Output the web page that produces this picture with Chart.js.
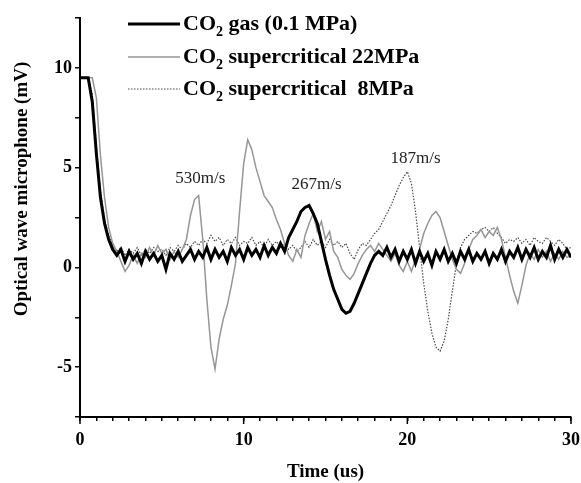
<!DOCTYPE html>
<html>
<head>
<meta charset="utf-8">
<script src="https://cdn.jsdelivr.net/npm/chart.js@4.4.0/dist/chart.umd.min.js"></script>
<style>
  body { margin: 0; background: #fff; }
  #wrap { width: 581px; height: 483px; }
</style>
</head>
<body>
<div id="wrap"><canvas id="owmChart" width="581" height="483"></canvas></div>
<script>
// sampling grid, us
var timeStep = 0.25;
var timeUs = [];
for (var i = 0; i <= 120; i++) timeUs.push(i * timeStep);

var seriesLabels = ['CO₂ gas (0.1 MPa)', 'CO₂ supercritical 22MPa', 'CO₂ supercritical  8MPa'];

// CO2 gas 0.1 MPa (mV)
var gasValues = [
  9.5, 9.5, 9.5, 8.3, 5.7, 3.5, 2.2, 1.4,
  0.9, 0.6, 0.9, 0.3, 0.8, 0.4, 0.7, 0.2,
  0.8, 0.4, 0.7, 0.3, 0.6, -0.1, 0.7, 0.4,
  0.8, 0.3, 0.6, 0.9, 0.4, 0.8, 0.5, 1.0,
  0.4, 0.9, 0.5, 0.8, 0.3, 1.0, 0.6, 0.9,
  0.4, 1.0, 0.6, 0.9, 0.5, 1.1, 0.6, 1.0,
  0.7, 1.2, 0.8, 1.5, 1.9, 2.3, 2.8, 3.0,
  3.1, 2.7, 2.2, 1.3, 0.4, -0.4, -1.1, -1.6,
  -2.1, -2.3, -2.2, -1.8, -1.3, -0.8, -0.3, 0.2,
  0.6, 0.8, 0.6, 1.0, 0.5, 0.9, 0.3, 0.8,
  0.4, 0.9, 0.2, 0.8, 0.3, 0.7, 0.1, 0.8,
  0.4, 0.9, 0.3, 0.7, 0.2, 0.8, 0.4, 0.9,
  0.3, 0.7, 0.4, 0.8, 0.2, 0.7, 0.4, 0.9,
  0.3, 0.8, 0.5, 1.0, 0.4, 0.9, 0.5, 1.0,
  0.4, 0.8, 0.5, 1.1, 0.4, 0.9, 0.5, 0.9,
  0.5
];

// CO2 supercritical 22 MPa (mV)
var sc22Values = [
  9.5, 9.5, 9.5, 9.5, 8.5, 5.6, 3.5, 2.0,
  1.2, 0.8, 0.3, -0.2, 0.1, 0.6, 0.2, 0.7,
  0.5, 1.0, 0.6, 1.1, 0.7, 0.9, 0.4, 0.8,
  0.5, 0.9, 1.4, 2.6, 3.4, 3.6, 1.4, -1.6,
  -4.0, -5.1, -3.6, -2.6, -1.9, -0.9, 0.2, 2.8,
  5.2, 6.4, 5.9, 5.0, 4.3, 3.6, 3.3, 3.0,
  2.4, 1.9, 1.2, 0.6, 0.3, 0.9, 0.5, 1.6,
  2.2, 2.7, 1.8, 2.3, 1.4, 1.8, 0.8, 0.5,
  -0.1, -0.4, -0.6, -0.3, 0.2, 0.6, 0.9, 1.1,
  0.8, 1.2, 0.9, 0.6, 0.3, 0.7, 0.1, -0.2,
  0.3, -0.2, 0.4, 0.9, 1.7, 2.2, 2.6, 2.8,
  2.5, 1.8, 1.1, 0.4, -0.1, -0.3, 0.2, 0.9,
  1.4, 1.6, 1.9, 1.5, 1.8, 1.6, 2.0, 1.4,
  0.5, -0.4, -1.2, -1.8, -0.9, 0.1, 0.7, 0.4,
  0.9, 0.5, 0.8, 0.3, 0.7, 0.4, 0.8, 0.5,
  0.6
];

// CO2 supercritical 8 MPa (mV)
var sc8Values = [
  9.5, 9.5, 9.5, 8.7, 6.1, 3.9, 2.4, 1.6,
  1.1, 0.8, 1.0, 0.6, 0.9, 0.7, 1.0, 0.6,
  0.9, 0.7, 1.0, 0.8, 0.9, 0.6, 1.0, 0.8,
  1.1, 0.9, 1.2, 1.0, 1.3, 1.1, 1.4, 1.2,
  1.6, 1.3, 1.5, 1.1, 1.4, 1.2, 1.5, 1.1,
  1.3, 1.2, 1.5, 1.1, 1.3, 1.0, 1.4, 1.1,
  1.3, 1.0, 1.2, 0.9, 1.1, 0.8, 1.0, 1.3,
  1.0, 1.4, 1.1, 1.3, 1.0, 1.4, 1.1, 1.3,
  1.0, 1.2, 0.7, 0.4, 0.9, 1.2, 1.1, 1.4,
  1.7, 1.9, 2.3, 2.7, 3.1, 3.6, 4.1, 4.5,
  4.8, 4.2, 2.8, 1.0, -0.8, -2.2, -3.3, -4.0,
  -4.2, -3.7, -2.6, -1.2, 0.2, 1.0, 1.4, 1.6,
  1.8, 1.7, 1.9, 2.0, 1.8, 2.0, 1.7, 1.5,
  1.2, 1.4, 1.3, 1.5, 1.2, 1.4, 1.1, 1.5,
  1.3, 1.2, 1.5, 1.3, 1.1, 1.4, 1.2, 0.9,
  1.0
];

// speed notes
var noteTexts = ['530m/s', '267m/s', '187m/s'];
var noteX = [7.35, 14.45, 20.5];
var noteY = [4.45, 4.15, 5.45];

var xTitle = 'Time (us)';
var yTitle = 'Optical wave microphone (mV)';
var serif = '"Liberation Serif", "Times New Roman", serif';

function pts(vals) {
  return vals.map(function (v, i) { return { x: timeUs[i], y: v }; });
}

var lineStyles = [
  { color: '#000000', width: 3, dash: [] },
  { color: '#969696', width: 1.5, dash: [] },
  { color: '#4a4a4a', width: 1.2, dash: [1.5, 1.5] }
];

var overlay = {
  id: 'overlay',
  afterDraw: function (chart) {
    var ctx = chart.ctx;
    var x = chart.scales.x, y = chart.scales.y;
    ctx.save();

    // longer major ticks on time axis
    ctx.strokeStyle = '#000';
    ctx.lineWidth = 1.5;
    [0, 10, 20, 30].forEach(function (v) {
      var px = x.getPixelForValue(v);
      ctx.beginPath();
      ctx.moveTo(px, x.top);
      ctx.lineTo(px, x.top + 7);
      ctx.stroke();
    });

    // notes
    ctx.fillStyle = '#222';
    ctx.font = '17px ' + serif;
    ctx.textAlign = 'center';
    ctx.textBaseline = 'middle';
    noteTexts.forEach(function (t, i) {
      ctx.fillText(t, x.getPixelForValue(noteX[i]), y.getPixelForValue(noteY[i]));
    });

    // axis titles
    ctx.fillStyle = '#000';
    ctx.font = 'bold 19px ' + serif;
    ctx.fillText(xTitle, (x.left + x.right) / 2, 472);
    ctx.save();
    ctx.translate(22, 189);
    ctx.rotate(-Math.PI / 2);
    ctx.fillText(yTitle, 0, 0);
    ctx.restore();

    // legend
    var rows = [24, 57, 89];
    ctx.textAlign = 'left';
    seriesLabels.forEach(function (lab, i) {
      var st = lineStyles[i];
      ctx.strokeStyle = st.color;
      ctx.lineWidth = st.width;
      ctx.setLineDash(st.dash);
      ctx.beginPath();
      ctx.moveTo(128, rows[i]);
      ctx.lineTo(180, rows[i]);
      ctx.stroke();
      ctx.setLineDash([]);
      var parts = lab.split('₂');
      var tx = 183;
      ctx.fillStyle = '#000';
      ctx.font = 'bold 22px ' + serif;
      ctx.fillText(parts[0], tx, rows[i]);
      tx += ctx.measureText(parts[0]).width;
      ctx.font = 'bold 14px ' + serif;
      ctx.fillText('2', tx, rows[i] + 8);
      tx += ctx.measureText('2').width;
      ctx.font = 'bold 22px ' + serif;
      ctx.fillText(parts[1], tx, rows[i]);
    });
    ctx.restore();
  }
};

var ctx = document.getElementById('owmChart').getContext('2d');
var datasets = [gasValues, sc22Values, sc8Values].map(function (vals, i) {
  return {
    label: seriesLabels[i],
    data: pts(vals),
    borderColor: lineStyles[i].color,
    borderWidth: lineStyles[i].width,
    borderDash: lineStyles[i].dash,
    pointRadius: 0,
    tension: 0,
    fill: false
  };
});

var owmChart = new Chart(ctx, {
  type: 'line',
  data: { datasets: datasets },
  plugins: [overlay],
  options: {
    responsive: false,
    animation: false,
    layout: { padding: { left: 0, right: 10, top: 18, bottom: 0 } },
    plugins: { legend: { display: false }, tooltip: { enabled: false } },
    scales: {
      x: {
        type: 'linear',
        min: 0, max: 30,
        afterFit: function (s) { s.height = 66; s.paddingLeft = 0; s.paddingRight = 0; },
        border: { color: '#000', width: 2 },
        grid: { drawOnChartArea: false, drawTicks: true, tickLength: 4, color: '#000', lineWidth: 1.5 },
        ticks: {
          stepSize: 1, autoSkip: false, maxRotation: 0, padding: 9,
          color: '#000',
          font: { family: serif, size: 18, weight: 'bold' },
          callback: function (v) { return v % 10 === 0 ? String(v) : ''; }
        }
      },
      y: {
        min: -7.5, max: 12.5,
        afterFit: function (s) { s.width = 80; s.paddingTop = 0; s.paddingBottom = 0; },
        border: { color: '#000', width: 2 },
        grid: { drawOnChartArea: false, drawTicks: true, tickLength: 5, color: '#000', lineWidth: 1.5 },
        ticks: {
          stepSize: 2.5, autoSkip: false, padding: 3,
          color: '#000',
          font: { family: serif, size: 18, weight: 'bold' },
          callback: function (v) { return v % 5 === 0 ? String(v) : ''; }
        }
      }
    }
  }
});
</script>
</body>
</html>
